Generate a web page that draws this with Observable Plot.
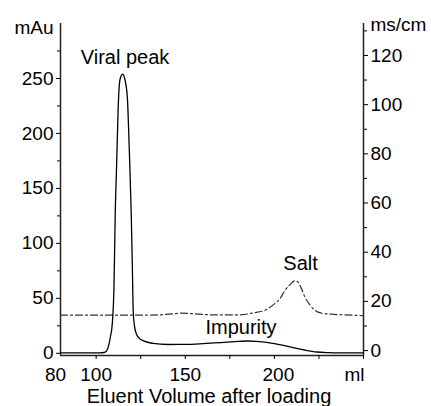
<!DOCTYPE html>
<html>
<head>
<meta charset="utf-8">
<script src="https://cdn.jsdelivr.net/npm/d3@7"></script>
<script src="https://cdn.jsdelivr.net/npm/@observablehq/plot@0.6"></script>
<style>
  html, body { margin: 0; padding: 0; background: #fff; }
</style>
</head>
<body>
<div id="chart"></div>
<script>
// Absorbance trace (mAu, left axis)
const volume = [80, 90, 100, 103.5, 105, 106, 107, 108, 109, 110, 110.7, 111.5, 112.6, 113.5, 114.9, 116, 117.5, 118.5, 119.7, 120.3, 120.8, 121.5, 122.5, 124, 127, 132, 140, 150, 160, 170, 180, 185, 190, 200, 205, 211, 217, 224, 230, 237, 250];
const absorbance = [0.3, 0.3, 0.3, 0.5, 1, 2.5, 7, 15, 26, 60, 126, 172, 233, 250, 254, 250, 233, 190, 126, 80, 38, 25, 18, 14, 11, 9, 8, 8.1, 8.8, 9.8, 10.8, 11.2, 10.9, 8.8, 7.2, 5, 3, 1.2, 0.6, 0.3, 0.3];

// Conductivity trace (ms/cm, right axis)
const condVolume = [80, 100, 120, 135, 142, 148, 154, 162, 170, 180, 188, 195, 200, 203, 206, 209, 211.5, 213, 215, 217, 220, 223, 226, 232, 240, 250];
const conductivity = [14.4, 14.4, 14.4, 14.5, 14.9, 15.2, 15.0, 14.6, 14.5, 14.5, 15.3, 16.5, 19, 21, 24.5, 27, 28.4, 28, 25.5, 22, 18.5, 16.3, 15.3, 14.8, 14.5, 14.2];

// Axes
const xDomain = [80, 250];
const xFirstLabel = [80];
const xMidLabels = [100, 150];
const xLastLabel = [200];
const xMarkTicks = [100, 125, 150, 175, 200, 225, 250];
const leftDomain = [-2, 300];
const leftTicks = [0, 50, 100, 150, 200, 250];
const leftMinor = [25, 75, 125, 175, 225, 275];
const rightDomain = [-2, 133];
const rightTicks = [0, 20, 40, 60, 80, 100, 120];
const rightMinor = [10, 30, 50, 70, 90, 110, 130];

// Annotations (x in ml, y in mAu)
const annotations = [
  {x: 116.2, y: 269, text: "Viral peak"},
  {x: 214.7, y: 81.7, text: "Salt"},
  {x: 181.3, y: 23.5, text: "Impurity"}
];

const toLeft = v => leftDomain[0] + (v - rightDomain[0]) * (leftDomain[1] - leftDomain[0]) / (rightDomain[1] - rightDomain[0]);
const fromLeft = y => rightDomain[0] + (y - leftDomain[0]) * (rightDomain[1] - rightDomain[0]) / (leftDomain[1] - leftDomain[0]);

const absData = volume.map((v, i) => ({v, y: absorbance[i]}));
const condData = condVolume.map((v, i) => ({v, y: toLeft(conductivity[i])}));

const font = "'Liberation Sans', Arial, sans-serif";
const tickFont = 19;
const labelFont = 20;

const chart = Plot.plot({
  width: 431,
  height: 406,
  marginLeft: 60,
  marginRight: 68,
  marginTop: 23,
  marginBottom: 51,
  style: {fontFamily: font, fontSize: tickFont + "px", background: "#fff", color: "#000"},
  x: {domain: xDomain},
  y: {domain: leftDomain},
  marks: [
    // axis lines
    Plot.ruleX([xDomain[0]], {stroke: "#222", strokeWidth: 1.5}),
    Plot.ruleX([xDomain[1]], {stroke: "#222", strokeWidth: 1.5}),
    Plot.ruleY([leftDomain[0]], {stroke: "#222", strokeWidth: 1.5}),
    // x axis
    Plot.axisX(xMarkTicks, {anchor: "bottom", tickSize: 4, tickFormat: () => "", label: null}),
    Plot.text(xMidLabels, {x: d => d, frameAnchor: "bottom", dy: 12, lineAnchor: "top", fontSize: tickFont,
      text: d => String(d)}),
    Plot.text(xFirstLabel, {x: d => d, frameAnchor: "bottom", dy: 12, dx: -5, lineAnchor: "top", fontSize: tickFont,
      text: d => String(d)}),
    Plot.text(xLastLabel, {x: d => d, frameAnchor: "bottom", dy: 12, dx: 4, lineAnchor: "top", fontSize: tickFont,
      text: d => String(d)}),
    Plot.text(["ml"], {frameAnchor: "bottom-right", dy: 12, dx: 1, lineAnchor: "top", textAnchor: "end", fontSize: tickFont}),
    Plot.text(["Eluent Volume after loading"], {frameAnchor: "bottom", dy: 47, dx: -3, lineAnchor: "bottom", fontSize: labelFont}),
    // left axis
    Plot.axisY(leftTicks, {anchor: "left", tickSize: 4, tickPadding: 3, label: null, fontSize: tickFont}),
    Plot.axisY(leftMinor, {anchor: "left", tickSize: 3, tickFormat: () => "", label: null}),
    Plot.text(["mAu"], {frameAnchor: "top-left", dx: -7, dy: 4, textAnchor: "end", lineAnchor: "middle", fontSize: tickFont}),
    // right axis
    Plot.axisY(rightTicks.map(toLeft), {anchor: "right", tickSize: 4, tickPadding: 3, label: null, fontSize: tickFont,
      tickFormat: d => String(Math.round(fromLeft(d)))}),
    Plot.axisY(rightMinor.map(toLeft), {anchor: "right", tickSize: 3, tickFormat: () => "", label: null}),
    Plot.text(["ms/cm"], {frameAnchor: "top-right", dx: 7, dy: 1, textAnchor: "start", lineAnchor: "middle", fontSize: tickFont}),
    // data
    Plot.line(condData, {x: "v", y: "y", stroke: "#333", strokeWidth: 1.2, strokeDasharray: "7,3,2,3", curve: "monotone-x"}),
    Plot.line(absData, {x: "v", y: "y", stroke: "#000", strokeWidth: 1.3, curve: "monotone-x"}),
    // annotations
    Plot.text(annotations, {x: "x", y: "y", text: "text", fontSize: labelFont, lineAnchor: "middle"})
  ]
});

document.getElementById("chart").appendChild(chart);
</script>
</body>
</html>
